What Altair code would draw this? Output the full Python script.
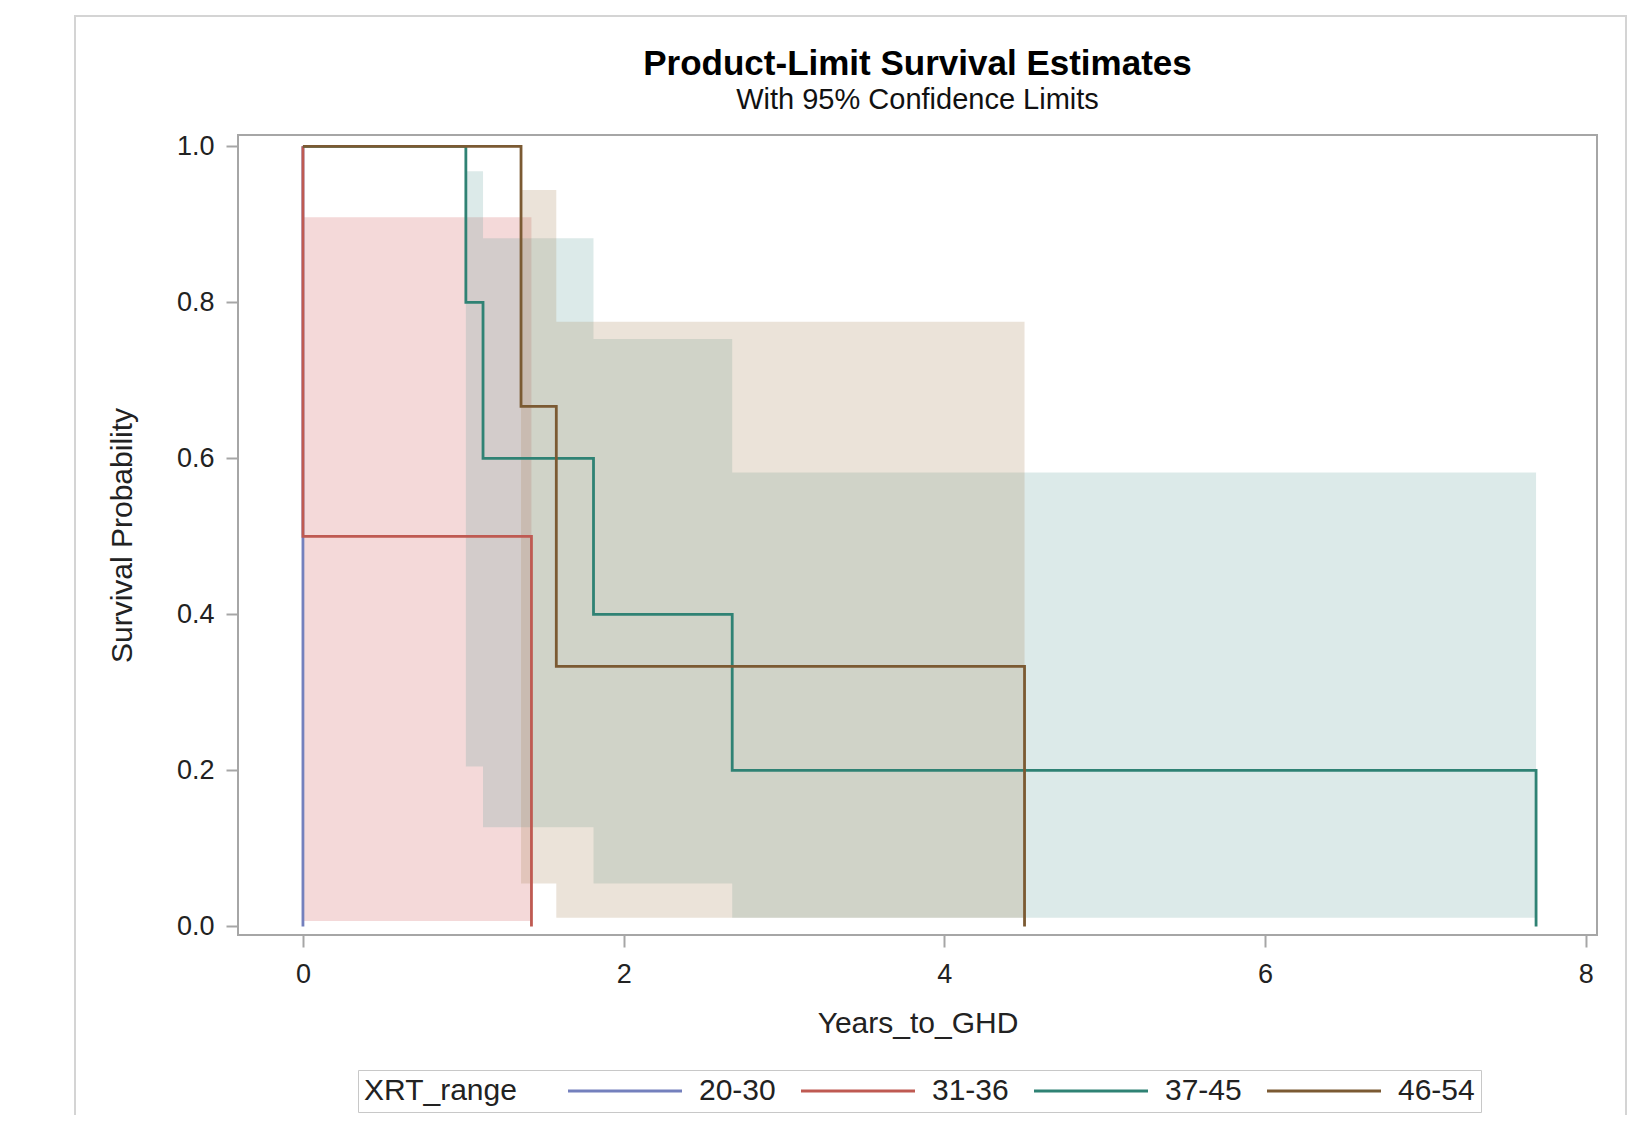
import altair as alt
import pandas as pd

groups = ["20-30", "31-36", "37-45", "46-54"]
line_colors = ["#7480bd", "#bf5a52", "#2f8274", "#7b5a33"]
fill_colors = ["#6F7EB3", "#D05B5B", "#66A5A0", "#A9865B"]

# Kaplan-Meier step curves (time of step, survival after step)
t_2030 = [0.0, 0.0]
s_2030 = [1.0, 0.0]
t_3136 = [0.0, 0.0, 1.425]
s_3136 = [1.0, 0.5, 0.0]
t_3745 = [0.0, 1.016, 1.123, 1.812, 2.677, 7.69]
s_3745 = [1.0, 0.8, 0.6, 0.4, 0.2, 0.0]
t_4654 = [0.0, 1.36, 1.58, 4.50]
s_4654 = [1.0, 0.6667, 0.3333, 0.0]

# 95% confidence bands (step start times, lower, upper; last point closes the band)
bt_3136 = [0.0, 1.425]
blo_3136 = [0.007, 0.007]
bhi_3136 = [0.909, 0.909]
bt_3745 = [1.016, 1.123, 1.812, 2.677, 7.69]
blo_3745 = [0.205, 0.127, 0.055, 0.011, 0.011]
bhi_3745 = [0.968, 0.882, 0.753, 0.582, 0.582]
bt_4654 = [1.36, 1.58, 4.50]
blo_4654 = [0.055, 0.011, 0.011]
bhi_4654 = [0.944, 0.775, 0.775]

x_ticks = [0, 2, 4, 6, 8]
y_ticks = [0.0, 0.2, 0.4, 0.6, 0.8, 1.0]

line_rows = []
for g, ts, ss in [("20-30", t_2030, s_2030), ("31-36", t_3136, s_3136),
                  ("37-45", t_3745, s_3745), ("46-54", t_4654, s_4654)]:
    for i, (t, s) in enumerate(zip(ts, ss)):
        line_rows.append({"group": g, "time": t, "surv": s, "idx": i})
line_df = pd.DataFrame(line_rows)

band_rows = []
for g, ts, lo, hi in [("31-36", bt_3136, blo_3136, bhi_3136),
                      ("37-45", bt_3745, blo_3745, bhi_3745),
                      ("46-54", bt_4654, blo_4654, bhi_4654)]:
    for i, (t, l, h) in enumerate(zip(ts, lo, hi)):
        band_rows.append({"group": g, "time": t, "lo": l, "hi": h, "idx": i})
band_df = pd.DataFrame(band_rows)

FONT = "Liberation Sans"
xscale = alt.Scale(domain=[-0.405, 8.07], nice=False, zero=False)
yscale = alt.Scale(domain=[-0.011, 1.0145], nice=False, zero=False)
xaxis = alt.Axis(title="Years_to_GHD", values=x_ticks, format="d", labelPadding=14,
                 titleY=97, titleBaseline="alphabetic")
yaxis = alt.Axis(title="Survival Probability", values=y_ticks, format=".1f", labelPadding=12,
                 titleX=-116, titleBaseline="middle")

legend = alt.Legend(
    title="XRT_range", orient="none", legendX=120, legendY=935, direction="horizontal",
    titleOrient="left", titleFontSize=30, titleFontWeight="normal", titleFont=FONT,
    titleColor="#222", titlePadding=46,
    labelFontSize=30, labelFont=FONT, labelColor="#222", labelOffset=59,
    symbolType="M-5.7,0H5.7", symbolSize=400, symbolOffset=47, symbolStrokeWidth=3,
    columnPadding=19, strokeColor="#c8c8c8", padding=6,
)

border = alt.Chart(pd.DataFrame({"a": [0]})).mark_rect(
    fillOpacity=0, stroke="#d4d4d4", strokeWidth=2
).encode(x=alt.value(-163), x2=alt.value(1388), y=alt.value(-119), y2=alt.value(1000))

bands = alt.Chart(band_df).mark_area(interpolate="step-after", fillOpacity=0.23).encode(
    x=alt.X("time:Q", scale=xscale, axis=xaxis),
    y=alt.Y("hi:Q", scale=yscale, axis=yaxis),
    y2="lo:Q",
    color=alt.Color("group:N", scale=alt.Scale(domain=groups, range=fill_colors), legend=None),
)

lines = alt.Chart(line_df).mark_line(interpolate="step-after", strokeWidth=2.8).encode(
    x=alt.X("time:Q", scale=xscale, axis=xaxis),
    y=alt.Y("surv:Q", scale=yscale, axis=yaxis),
    color=alt.Color("group:N", scale=alt.Scale(domain=groups, range=line_colors), legend=legend),
    order=alt.Order("idx:Q"),
)

chart = alt.layer(border, bands, lines).resolve_scale(color="independent").resolve_legend(
    color="independent"
).properties(
    width=1359, height=800,
    padding={"left": 230, "top": 127, "right": 34, "bottom": 180},
    autosize=alt.AutoSizeParams(type="none"),
    title=alt.TitleParams(
        text="Product-Limit Survival Estimates", subtitle="With 95% Confidence Limits",
        font=FONT, fontSize=35, fontWeight="bold", color="#000",
        subtitleFont=FONT, subtitleFontSize=29, subtitleColor="#111",
        anchor="middle", frame="group", offset=17, subtitlePadding=4, dy=117,
    ),
).configure_view(stroke="#a6a6a6", strokeWidth=2).configure_axis(
    labelFont=FONT, labelFontSize=27, labelColor="#222",
    titleFont=FONT, titleFontSize=30, titleFontWeight="normal", titleColor="#222",
    tickColor="#a6a6a6", tickWidth=2, tickSize=12, domain=False, grid=False,
)

chart.save("out.html", embed_options={"renderer": "svg", "actions": False})
